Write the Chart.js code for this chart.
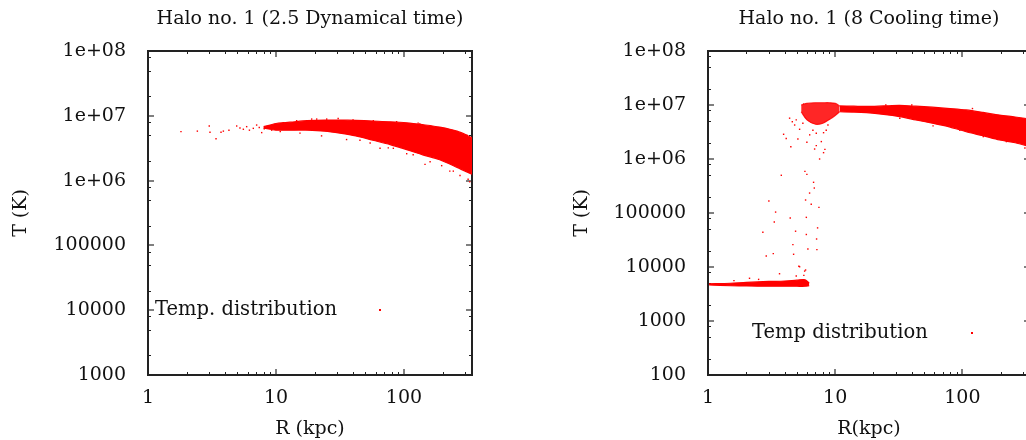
<!DOCTYPE html>
<html>
<head>
<meta charset="utf-8">
<script src="https://cdn.jsdelivr.net/npm/chart.js@4.4.1/dist/chart.umd.min.js"></script>
<style>
  html, body { margin: 0; padding: 0; background: #fff; width: 1026px; height: 440px; overflow: hidden; }
  .panel { position: absolute; top: 0; }
</style>
</head>
<body>
<div class="panel" style="left:0"><canvas id="left" width="540" height="440"></canvas></div>
<div class="panel" style="left:520px"><canvas id="right" width="540" height="440"></canvas></div>
<script>
// tick labels
const xTicks = [1, 10, 100];
const yTicksLeft = [1e3, 1e4, 1e5, 1e6, 1e7, 1e8];
const yTicksRight = [1e2, 1e3, 1e4, 1e5, 1e6, 1e7, 1e8];

// left panel: dense band (upper / lower edge)
const leftBandR     = [8, 9, 10, 14, 17.5, 24, 31.6, 42, 57, 78, 105, 140, 190, 260, 340];
const leftBandUpper = [6.8e6, 7.2e6, 7.6e6, 8.1e6, 8.4e6, 8.6e6, 8.6e6, 8.5e6, 8.3e6, 8.1e6, 7.8e6, 7.3e6, 6.7e6, 5.8e6, 4.6e6];
const leftBandLower = [6.5e6, 6.2e6, 6.0e6, 6.0e6, 6.0e6, 5.8e6, 5.4e6, 4.9e6, 4.2e6, 3.6e6, 3.0e6, 2.5e6, 2.1e6, 1.6e6, 1.25e6];
// left panel: loose particles
const leftDotsR = [1.81, 2.43, 3.01, 3.05, 3.4, 3.72, 3.88, 4.29, 4.93, 5.23, 5.56, 5.9, 6.65, 7.06, 7.73, 8.45, 9.25,
                   35.6, 45.3, 65, 75.4, 105, 146, 197, 228, 274, 317, 326, 19, 24.9, 30.6, 87.6, 129,
                   11.4, 14.5, 20.8, 40, 57.6, 133, 191, 258, 310,
                   10.8, 15.4, 22.7, 54.4, 82.6, 118, 160, 243, 6.2, 7.4, 8.1];
const leftDotsT = [5.7e6, 5.8e6, 6.96e6, 5.56e6, 4.43e6, 5.56e6, 5.8e6, 6.0e6, 6.96e6, 6.5e6, 6.2e6, 6.8e6, 6.4e6, 7.2e6, 5.5e6, 6.8e6, 6.0e6,
                   4.3e6, 4.2e6, 3.15e6, 3.2e6, 2.6e6, 1.78e6, 1.7e6, 1.4e6, 1.2e6, 1.05e6, 9.6e5, 8.9e6, 8.9e6, 9.1e6, 8.1e6, 7.7e6,
                   7.8e6, 8.4e6, 8.9e6, 8.6e6, 8.4e6, 7.5e6, 6.4e6, 5.6e6, 5.0e6,
                   5.7e6, 5.4e6, 4.9e6, 3.8e6, 3.15e6, 2.5e6, 1.95e6, 1.4e6, 6.0e6, 6.6e6, 6.3e6];

// right panel: cold disc band
const rightLowR     = [1.02, 1.5, 2, 3, 4, 5, 5.8, 6.25];
const rightLowUpper = [4900, 5000, 5200, 5400, 5500, 5700, 5800, 5000];
const rightLowLower = [4650, 4500, 4450, 4400, 4400, 4400, 4400, 4500];
// right panel: hot cloud near 5-11 kpc
const rightCloudR     = [5.4, 6, 7, 8, 9, 10, 10.8];
const rightCloudUpper = [1.0e7, 1.07e7, 1.1e7, 1.1e7, 1.1e7, 1.07e7, 9.6e6];
const rightCloudLower = [7.5e6, 5.3e6, 4.4e6, 4.6e6, 5.4e6, 6.4e6, 7.5e6];
// right panel: hot halo band
const rightBandR     = [10.8, 14, 17.6, 24, 32, 43, 58, 80, 107, 145, 196, 260, 340];
const rightBandUpper = [9.6e6, 9.5e6, 9.4e6, 9.6e6, 9.8e6, 9.5e6, 9.1e6, 8.6e6, 8.1e6, 7.3e6, 6.5e6, 6.0e6, 5.5e6];
const rightBandLower = [7.5e6, 7.4e6, 7.2e6, 6.7e6, 6.1e6, 5.3e6, 4.6e6, 3.9e6, 3.2e6, 2.7e6, 2.25e6, 2.0e6, 1.7e6];
// right panel: loose particles
const rightDotsR = [3.77, 3.01, 3.4, 3.32, 4.43, 2.7, 2.87, 3.26, 4.88, 4.65, 4.71, 5.18, 5.78, 5.99, 6.76, 6.85, 6.29, 5.85,
                    6.48, 7.45, 5.93, 5.93, 7.27, 7.14, 6.1, 7.18, 5.75, 5.67, 3.65, 4.48, 7.54, 8.1, 8.3, 6.89, 7.1, 7.78,
                    4.12, 5.09, 5.99, 3.93, 4.6, 4.38, 4.94, 5.25, 4.8, 5.57, 6.3, 6.68, 7.1, 8.1, 8.5, 8.77, 5.64,
                    2.12, 5.25, 5.85, 4.94, 1.6, 2.5,
                    32.2, 58.8, 95.5, 146, 222, 310, 25, 40, 120];
const rightDotsT = [4.99e5, 1.67e5, 1.04e5, 6.8e4, 8.1e4, 4.4e4, 1.6e4, 1.77e4, 4.6e4, 2.6e4, 1.72e4, 1.03e4, 5.9e5, 5.2e5, 3.7e5, 2.9e5, 2.34e5, 1.74e5,
                    1.45e5, 1.27e5, 8.3e4, 4.0e4, 5.3e4, 3.3e4, 2.15e4, 2.1e4, 8.4e3, 7.0e3, 7.5e3, 1.69e6, 1.0e6, 1.31e6, 1.51e6, 1.53e6, 1.77e6, 2.1e6,
                    2.4e6, 2.35e6, 2.04e6, 2.87e6, 4.9e6, 5.7e6, 5.3e6, 3.55e6, 4.26e6, 4.6e6, 2.8e6, 3.4e6, 3.0e6, 3.07e6, 3.4e6, 4.26e6, 1.04e7,
                    6180, 1.01e4, 8800, 6800, 5600, 5900,
                    5.7e6, 4.1e6, 3.4e6, 2.6e6, 2.1e6, 1.6e6, 1.0e7, 1.0e7, 8.6e6];

const RED = '#ff0000';
const FONT = 'DejaVu Serif';

const pts = (xs, ys) => xs.map((x, i) => ({ x: x, y: ys[i] }));
const expLabel = v => v >= 1e6 ? '1e+0' + Math.round(Math.log10(v)) : String(v);

function band(xs, up, lo, color) {
  const c = color || RED;
  const line = { type: 'line', showLine: true, pointRadius: 0, borderWidth: 1.2, borderColor: c, tension: 0.3 };
  return [
    Object.assign({ data: pts(xs, up), fill: '+1', backgroundColor: c }, line),
    Object.assign({ data: pts(xs, lo), fill: false }, line)
  ];
}

// box with inward ticks on all four sides
const frame = {
  id: 'frame',
  beforeDatasetsDraw(chart) {
    const { ctx, chartArea: a, scales: { x, y } } = chart;
    ctx.save();
    const mark = (horiz, p, len, major) => {
      ctx.strokeStyle = major ? '#808080' : '#222';
      ctx.lineWidth = major ? 2 : 1;
      ctx.beginPath();
      if (horiz) {
        ctx.moveTo(p, a.bottom); ctx.lineTo(p, a.bottom - len);
        ctx.moveTo(p, a.top); ctx.lineTo(p, a.top + len);
      } else {
        ctx.moveTo(a.left, p); ctx.lineTo(a.left + len, p);
        ctx.moveTo(a.right, p); ctx.lineTo(a.right - len, p);
      }
      ctx.stroke();
    };
    const run = (scale, horiz, minors) => {
      for (let e = Math.floor(Math.log10(scale.min)); e <= Math.ceil(Math.log10(scale.max)); e++) {
        const d = Math.pow(10, e);
        minors.forEach(m => {
          const v = m * d;
          if (v > scale.min && v < scale.max) mark(horiz, Math.round(scale.getPixelForValue(v)) + 0.5, 3, false);
        });
        if (d > scale.min && d < scale.max) mark(horiz, Math.round(scale.getPixelForValue(d)), 6, true);
      }
    };
    run(x, true, [2, 3, 4, 5, 6, 7, 8, 9]);
    run(y, false, [2, 5, 8]);
    ctx.strokeStyle = '#222';
    ctx.lineWidth = 2;
    ctx.strokeRect(a.left, a.top, a.width, a.height);
    ctx.restore();
  }
};

// gnuplot style key inside the plot
const key = {
  id: 'key',
  afterDraw(chart, args, o) {
    const { ctx, chartArea: a } = chart;
    ctx.save();
    ctx.font = '19.5px "' + FONT + '"';
    ctx.fillStyle = '#111';
    ctx.textBaseline = 'middle';
    ctx.textAlign = 'left';
    ctx.fillText(o.text, a.left + o.textX, a.top + o.y);
    ctx.fillStyle = RED;
    ctx.fillRect(a.left + o.dotX - 1, a.top + o.y - 1, 2, 2);
    ctx.restore();
  }
};

function makeChart(id, cfg) {
  const font = { family: FONT, size: 19 };
  return new Chart(document.getElementById(id), {
    type: 'scatter',
    data: {
      datasets: cfg.bands.concat([{
        data: cfg.dots, pointStyle: 'rect', pointRadius: 1, borderWidth: 0,
        backgroundColor: RED, pointBackgroundColor: RED
      }])
    },
    options: {
      responsive: false,
      animation: false,
      events: [],
      layout: { padding: { left: 0, right: cfg.padRight, top: 0, bottom: 0 } },
      plugins: {
        legend: { display: false },
        tooltip: { enabled: false },
        title: {
          display: true, text: cfg.title, fullSize: false, color: '#111',
          font: { family: FONT, size: 19, weight: 'normal' },
          padding: { top: 8, bottom: 20.2 }
        },
        key: cfg.key
      },
      scales: {
        x: {
          type: 'logarithmic', min: 1, max: 340,
          afterBuildTicks: s => { s.ticks = xTicks.map(v => ({ value: v })); },
          afterFit: s => { s.height = 65; },
          grid: { display: false }, border: { display: false },
          ticks: { autoSkip: false, maxRotation: 0, padding: 4, color: '#111', font: font, callback: v => String(v) },
          title: { display: true, text: cfg.xTitle, color: '#111', font: font, padding: { top: 0, bottom: 0 } }
        },
        y: {
          type: 'logarithmic', min: cfg.yMin, max: 1e8,
          afterBuildTicks: s => { s.ticks = cfg.yTicks.map(v => ({ value: v })); },
          afterFit: s => { s.width = cfg.yWidth; },
          grid: { display: false }, border: { display: false },
          ticks: { autoSkip: false, padding: 14, color: '#111', font: font, callback: v => expLabel(v) },
          title: { display: true, text: 'T (K)', color: '#111', font: font, padding: { top: cfg.yTitlePad, bottom: 0 } }
        }
      }
    },
    plugins: [frame, key]
  });
}

makeChart('left', {
  title: 'Halo no. 1 (2.5 Dynamical time)',
  xTitle: 'R (kpc)',
  yMin: 1e3, yTicks: yTicksLeft, yWidth: 148, yTitlePad: 10, padRight: 68,
  bands: band(leftBandR, leftBandUpper, leftBandLower),
  dots: pts(leftDotsR, leftDotsT),
  key: { text: 'Temp. distribution', textX: 7, dotX: 232, y: 259 }
});

makeChart('right', {
  title: 'Halo no. 1 (8 Cooling time)',
  xTitle: 'R(kpc)',
  yMin: 1e2, yTicks: yTicksRight, yWidth: 188, yTitlePad: 51, padRight: 30,
  bands: band(rightLowR, rightLowUpper, rightLowLower)
    .concat(band(rightCloudR, rightCloudUpper, rightCloudLower, 'rgba(255,0,0,0.85)'))
    .concat(band(rightBandR, rightBandUpper, rightBandLower)),
  dots: pts(rightDotsR, rightDotsT),
  key: { text: 'Temp distribution', textX: 44, dotX: 264, y: 282 }
});
</script>
</body>
</html>
